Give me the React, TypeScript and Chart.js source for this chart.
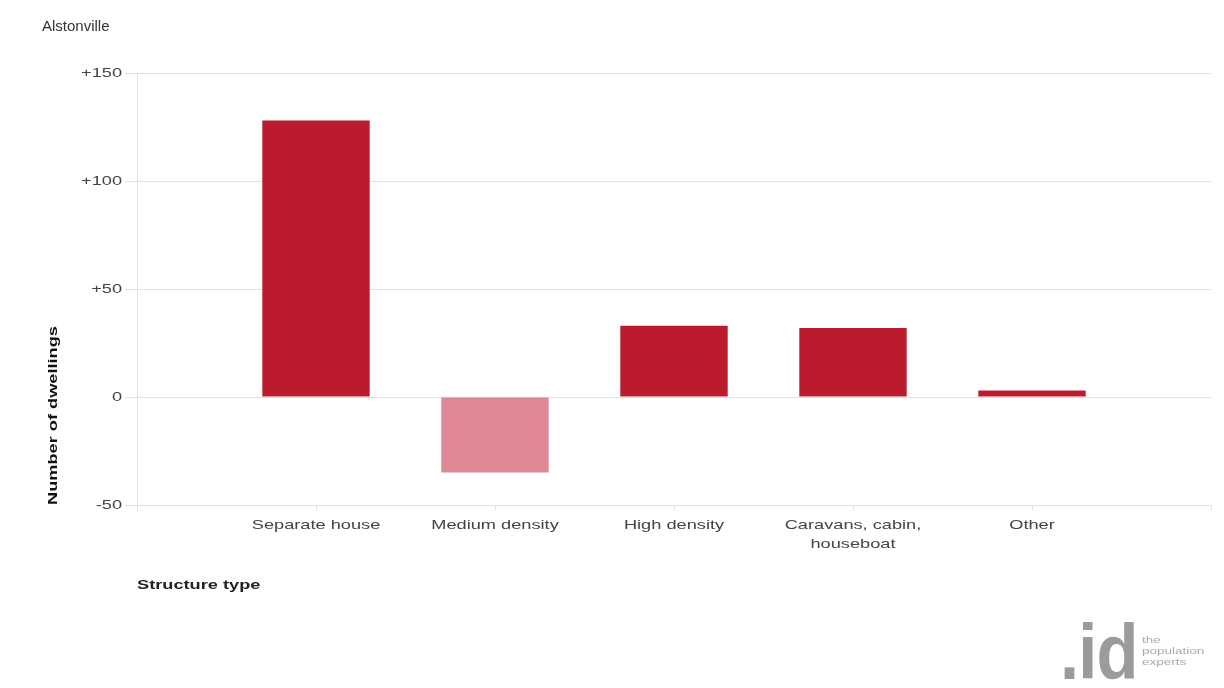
import React, { useEffect, useRef } from "react";
import { Chart, registerables } from "chart.js";

Chart.register(...registerables);

const categories: (string | string[])[] = [
  "",
  "Separate house",
  "Medium density",
  "High density",
  ["Caravans, cabin,", "houseboat"],
  "Other",
  "",
];
const changeValues: (number | null)[] = [null, 128, -35, 33, 32, 3, null];
const yTicks = [-50, 0, 50, 100, 150];

const RED = "#BA1C2E";
const PINK = "#E08796";
const FONT = "'Liberation Sans', Arial, sans-serif";
const TEXT_STRETCH = 1.4;

export default function App() {
  const ref = useRef<HTMLCanvasElement>(null);

  useEffect(() => {
    document.body.style.margin = "0";
    const canvas = ref.current!;
    const c2d: any = canvas.getContext("2d");
    const origFill = c2d.fillText.bind(c2d);
    c2d.fillText = (t: string, x: number, y: number, mw?: number) => {
      c2d.save();
      c2d.translate(x, y);
      c2d.scale(TEXT_STRETCH, 1);
      if (mw !== undefined) origFill(t, 0, 0, mw / TEXT_STRETCH);
      else origFill(t, 0, 0);
      c2d.restore();
    };

    const chart = new Chart(canvas, {
      type: "bar",
      data: {
        labels: categories,
        datasets: [
          {
            label: "Change in dwellings",
            data: changeValues,
            backgroundColor: changeValues.map((v) => (v !== null && v < 0 ? PINK : RED)),
            borderWidth: 0,
            categoryPercentage: 1,
            barPercentage: 0.6,
          },
        ],
      },
      options: {
        animation: false,
        responsive: false,
        maintainAspectRatio: false,
        layout: { padding: { left: 0, top: 73, right: 13, bottom: 0 } },
        plugins: {
          legend: { display: false },
          tooltip: { enabled: false },
          title: { display: false },
        },
        scales: {
          x: {
            offset: false,
            grid: {
              offset: false,
              drawOnChartArea: false,
              drawTicks: true,
              tickLength: 6,
              color: "#e4e4e4",
            },
            border: { display: false },
            ticks: {
              autoSkip: false,
              maxRotation: 0,
              padding: 5,
              color: "#444",
              font: { family: FONT, size: 13, lineHeight: 1.45 },
            },
            title: {
              display: true,
              text: "Structure type",
              align: "start",
              color: "#222",
              font: { family: FONT, size: 13, weight: "bold" },
              padding: { top: 0, bottom: 95 },
            },
            afterFit: (s: any) => {
              s.height = 688 - 505;
            },
          },
          y: {
            min: -50,
            max: 150,
            afterBuildTicks: (s: any) => {
              s.ticks = yTicks.map((v) => ({ value: v }));
            },
            grid: {
              color: "#e2e2e2",
              tickLength: 12,
              drawTicks: true,
            },
            border: { display: true, color: "#e2e2e2" },
            ticks: {
              padding: 3,
              color: "#444",
              font: { family: FONT, size: 13 },
              callback: (v: any) => (Number(v) > 0 ? "+" + v : String(v)),
            },
            title: {
              display: true,
              text: "Number of dwellings",
              align: "start",
              color: "#111",
              font: { family: FONT, size: 13, weight: "bold" },
              padding: { top: 46, bottom: 0 },
            },
            afterFit: (s: any) => {
              s.width = 137;
            },
          },
        },
      },
    });
    return () => chart.destroy();
  }, []);

  return (
    <div style={{ position: "fixed", left: 0, top: 0, width: 1224, height: 688, background: "#fff" }}>
      <canvas ref={ref} width={1224} height={688} style={{ position: "absolute", left: 0, top: 0 }} />
      <div
        style={{
          position: "absolute",
          left: 42,
          top: 17,
          fontFamily: FONT,
          fontSize: 15,
          color: "#333",
        }}
      >
        Alstonville
      </div>
      <div
        style={{
          position: "absolute",
          left: 1060,
          top: 607,
          fontFamily: FONT,
          fontSize: 78,
          fontWeight: "bold",
          color: "#9b9b9b",
          lineHeight: "90px",
          transform: "scaleX(0.88)",
          transformOrigin: "0 0",
          letterSpacing: -1,
        }}
      >
        .id
      </div>
      <div
        style={{
          position: "absolute",
          left: 1142,
          top: 635,
          fontFamily: FONT,
          fontSize: 9,
          lineHeight: "11px",
          color: "#aaa",
          transform: "scaleX(1.5)",
          transformOrigin: "0 0",
        }}
      >
        the
        <br />
        population
        <br />
        experts
      </div>
    </div>
  );
}
